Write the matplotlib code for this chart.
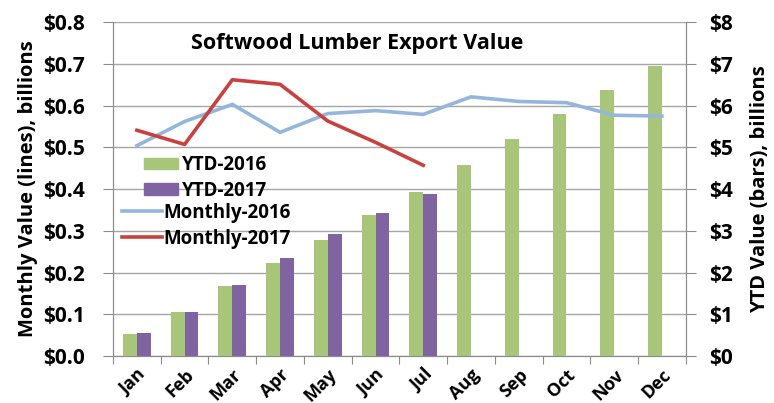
import numpy as np
import matplotlib
matplotlib.use("Agg")
import matplotlib.pyplot as plt
from matplotlib.patches import Patch
from matplotlib.lines import Line2D

plt.rcParams["font.family"] = ["Open Sans", "DejaVu Sans"]
plt.rcParams["font.weight"] = "bold"

months = ["Jan", "Feb", "Mar", "Apr", "May", "Jun", "Jul",
          "Aug", "Sep", "Oct", "Nov", "Dec"]
ytd_2016 = [0.53, 1.06, 1.67, 2.22, 2.79, 3.38, 3.93, 4.57, 5.19, 5.79, 6.37, 6.95]
ytd_2017 = [0.54, 1.05, 1.71, 2.36, 2.93, 3.43, 3.88]
monthly_2016 = [0.504, 0.562, 0.603, 0.536, 0.581, 0.588, 0.579,
                0.621, 0.610, 0.607, 0.577, 0.575]
monthly_2017 = [0.541, 0.507, 0.662, 0.651, 0.563, 0.512, 0.457]

GREEN = "#a8c67a"; PURPLE = "#8064a2"; BLUE = "#95b6dc"; RED = "#c9413e"
AXC = "#8c8c8c"

fig = plt.figure(figsize=(7.74, 4.03), dpi=100)
ax = fig.add_axes([0.146, 0.1166, 0.740, 0.8284])
ax2 = ax.twinx()
ax.set_zorder(ax2.get_zorder() + 1)
ax.patch.set_visible(False)

x = np.arange(len(months))
w = 0.29
ax2.bar(x[:len(ytd_2016)] - w / 2, ytd_2016, w, color=GREEN, zorder=3)
ax2.bar(x[:len(ytd_2017)] + w / 2, ytd_2017, w, color=PURPLE, zorder=3)
ax2.set_ylim(0, 8)
ax2.set_yticks(range(0, 9))
ax2.set_yticklabels([f"${v}" for v in range(0, 9)])
ax2.grid(axis="y", color="#a6a6a6", lw=1.0, zorder=0)
ax2.set_axisbelow(True)

ax.plot(x[:len(monthly_2016)], monthly_2016, color=BLUE, lw=2.6, zorder=4)
ax.plot(x[:len(monthly_2017)], monthly_2017, color=RED, lw=2.6, zorder=5)
ax.set_ylim(0, 0.8)
ax.set_yticks(np.arange(0, 0.81, 0.1))
ax.set_yticklabels([f"${v:.1f}" for v in np.arange(0, 0.81, 0.1)])
ax.set_xlim(-0.5, len(months) - 0.5)

ax.set_xticks(np.arange(-0.5, len(months), 1))
ax.set_xticklabels([])
ax.set_xticks(x, minor=True)
ax.set_xticklabels(months, minor=True, rotation=45, ha="right",
                   rotation_mode="anchor", fontsize=13, fontweight="bold")
ax.tick_params(axis="x", which="major", length=6, color=AXC, direction="out")
ax.tick_params(axis="x", which="minor", length=0, pad=7)

for a in (ax, ax2):
    a.spines["top"].set_visible(False)
    for s in ("left", "right", "bottom"):
        a.spines[s].set_color(AXC)
ax.tick_params(axis="y", length=7, color=AXC, labelsize=15, pad=13)
ax2.tick_params(axis="y", length=7, color=AXC, labelsize=15, pad=10)
for lab in ax.get_yticklabels() + ax2.get_yticklabels():
    lab.set_fontweight("bold")

ax.set_ylabel("Monthly Value (lines), billions", fontsize=14.5, fontweight="bold", labelpad=4)
ax2.set_ylabel("YTD Value (bars), billions", fontsize=14.5, fontweight="bold", labelpad=12)

ax.text(0.426, 0.935, "Softwood Lumber Export Value", transform=ax.transAxes,
        ha="center", va="center", fontsize=15.5, fontweight="bold")

bar_leg = ax.legend([Patch(color=GREEN), Patch(color=PURPLE)], ["YTD-2016", "YTD-2017"],
                    loc="upper left", bbox_to_anchor=(144 / 774, 1 - 155 / 403),
                    bbox_transform=fig.transFigure, frameon=False, fontsize=13.5,
                    handlelength=1.8, handleheight=0.55, labelspacing=0.3,
                    handletextpad=0.25, borderpad=0, borderaxespad=0)
for t in bar_leg.get_texts():
    t.set_fontweight("bold")
ax.add_artist(bar_leg)

line_leg = ax.legend([Line2D([], [], color=BLUE, lw=2.6), Line2D([], [], color=RED, lw=2.6)],
                     ["Monthly-2016", "Monthly-2017"],
                     loc="upper left", bbox_to_anchor=(122 / 774, 1 - 203 / 403),
                     bbox_transform=fig.transFigure, frameon=False, fontsize=13.5,
                     handlelength=2.15, labelspacing=0.3, handletextpad=0.05,
                     borderpad=0, borderaxespad=0)
for t in line_leg.get_texts():
    t.set_fontweight("bold")

fig.savefig("out.png", dpi=100)
